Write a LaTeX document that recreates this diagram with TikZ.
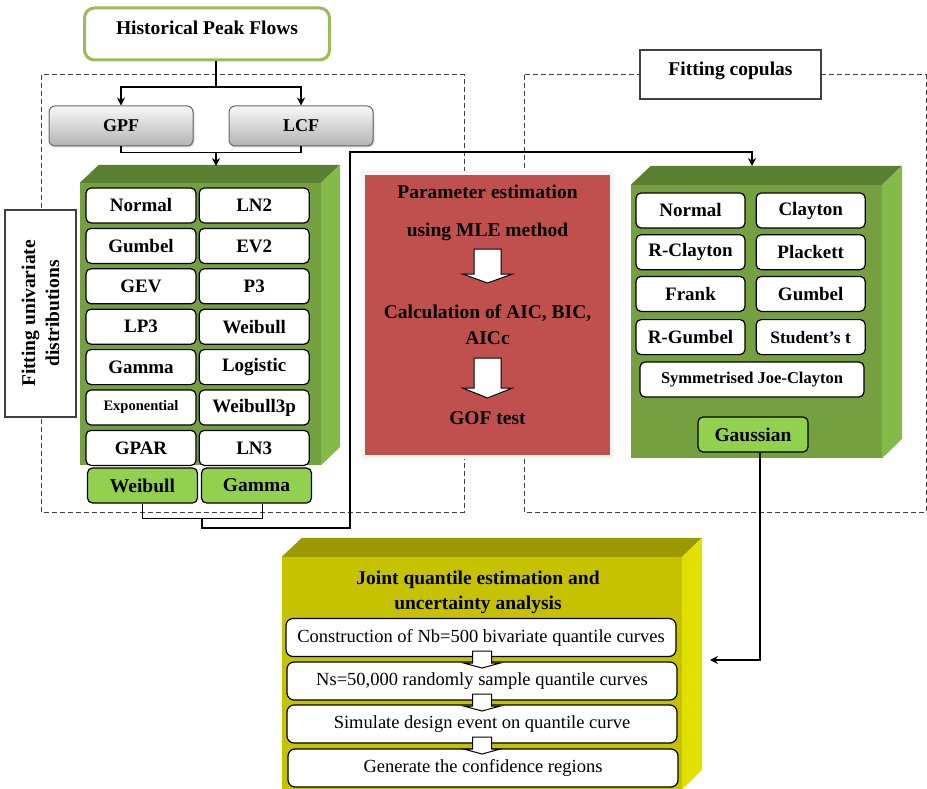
\documentclass[tikz,border=0pt]{standalone}
\usepackage{fontspec}
\setmainfont{Liberation Serif}
\usetikzlibrary{arrows.meta, positioning, shadows}

\definecolor{hpfgreen}{RGB}{155,187,89}
\definecolor{gfront}{RGB}{117,160,64}
\definecolor{gtop}{RGB}{90,128,50}
\definecolor{gside}{RGB}{132,186,72}
\definecolor{glight}{RGB}{146,208,80}
\definecolor{mlered}{RGB}{192,80,77}
\definecolor{yfront}{RGB}{198,194,0}
\definecolor{ytop}{RGB}{155,153,0}
\definecolor{yside}{RGB}{226,224,0}

\begin{document}
\begin{tikzpicture}[x=1pt, y=-1pt,
    arrow/.style={-{Stealth[length=8pt, width=8pt]}, line width=1.1pt},
    conn/.style={line width=1.1pt},
    dashbox/.style={draw=black!75, line width=1pt, dash pattern=on 5pt off 3pt},
    titlebox/.style={rectangle, draw=black!75, line width=1.1pt, fill=white, font=\fontsize{19.5}{24}\selectfont\bfseries},
    sourcebox/.style={rectangle, rounded corners=6pt, draw=black!60, line width=1pt, top color=gray!5, bottom color=gray!60, minimum width=144pt, minimum height=40pt, drop shadow={shadow xshift=1.5pt, shadow yshift=-1.5pt, fill=black!30}, font=\fontsize{18}{22}\selectfont\bfseries},
    cell/.style={rectangle, rounded corners=5pt, draw, line width=1.2pt, fill=white, minimum width=110pt, minimum height=35pt, inner sep=1pt, font=\fontsize{19}{22}\selectfont\bfseries},
    pick/.style={cell, fill=glight},
    front/.style={rectangle, inner sep=0pt},
    mletext/.style={font=\fontsize{19.5}{24}\selectfont\bfseries},
    stepbox/.style={rectangle, rounded corners=7pt, draw, line width=1.2pt, fill=white, minimum width=390pt, minimum height=38pt, font=\fontsize{18.5}{22}\selectfont},
    blockarr/.style={draw, line width=1pt, fill=white}
]
\useasboundingbox (0,0) rectangle (927,789);

% dashed groups
\draw[dashbox] (41,75) rectangle (464,512);
\draw[dashbox] (524,75) rectangle (926,512);

% input
\node[rectangle, rounded corners=10pt, draw=hpfgreen, line width=3pt, fill=white, minimum width=245pt, minimum height=52pt, text depth=12pt, font=\fontsize{19.5}{24}\selectfont\bfseries] (hpf) at (207,34) {Historical Peak Flows};
\node[sourcebox] (gpf) at (121,126) {GPF};
\node[sourcebox] (lcf) at (301,126) {LCF};

% univariate distributions
\node[titlebox, rotate=90, minimum width=207pt, minimum height=71pt, align=center] (unilabel) at (40.5,313.5) {Fitting univariate\\distributions};
\node[front, fill=gfront, minimum width=241pt, minimum height=282pt] (dist) at (200.5,324) {};
\fill[gtop] (dist.north west) -- ++(19,-18) -- ++(241,0) -- (dist.north east) -- cycle;
\fill[gside] (dist.north east) -- ++(19,-18) -- ++(0,282) -- (dist.south east) -- cycle;

\node[cell] (normal) at (141,205.5) {Normal};
\node[cell, right=2pt of normal] (ln2) {LN2};
\node[cell, below=4.2pt of normal] (gumbel) {Gumbel};
\node[cell, right=2pt of gumbel] (ev2) {EV2};
\node[cell, below=4.2pt of gumbel] (gev) {GEV};
\node[cell, right=2pt of gev] (p3) {P3};
\node[cell, below=4.2pt of gev] (lp3) {LP3};
\node[cell, right=2pt of lp3] (weibull) {Weibull};
\node[cell, below=4.2pt of lp3] (gamma) {Gamma};
\node[cell, right=2pt of gamma] (logistic) {Logistic};
\node[cell, below=4.2pt of gamma, font=\fontsize{14.5}{18}\selectfont\bfseries] (expo) {Exponential};
\node[cell, right=2pt of expo] (wei3p) {Weibull3p};
\node[cell, below=4.2pt of expo] (gpar) {GPAR};
\node[cell, right=2pt of gpar] (ln3) {LN3};

\node[pick, font=\fontsize{19.5}{22}\selectfont\bfseries] (bestw) at (142.5,485.5) {Weibull};
\node[pick, font=\fontsize{19.5}{22}\selectfont\bfseries] (bestg) at (256.5,485.5) {Gamma};

% parameter estimation
\node[front, fill=mlered, draw=gray!8, line width=4pt, minimum width=249pt, minimum height=284pt, drop shadow={shadow xshift=2pt, shadow yshift=-2pt, fill=red!25!gray!70}] (mle) at (487.5,315) {};
\node[mletext] (mle1) at (487.5,192) {Parameter estimation};
\node[mletext] (mle2) at (487.5,232) {using MLE method};
\node[mletext] (mle3) at (487.5,313) {Calculation of AIC, BIC,};
\node[mletext] (mle4) at (487.5,338) {AICc};
\node[mletext] (mle5) at (487.5,418) {GOF test};
\coordinate (arrA) at (487.5,249);
\coordinate (arrB) at (487.5,358);
\draw[blockarr] (arrA) ++(-13.5,0) -- ++(0,25) -- ++(-11.5,0) -- ++(25,9) -- ++(25,-9) -- ++(-11.5,0) -- ++(0,-25) -- cycle;
\draw[blockarr] (arrB) ++(-13.5,0) -- ++(0,30) -- ++(-11.5,0) -- ++(25,10) -- ++(25,-10) -- ++(-11.5,0) -- ++(0,-30) -- cycle;

% copulas
\node[titlebox, minimum width=181pt, minimum height=49pt, text depth=12pt] (coplabel) at (730.5,74.5) {Fitting copulas};
\node[front, fill=gfront, minimum width=251pt, minimum height=273pt] (cop) at (756.5,321.5) {};
\fill[gtop] (cop.north west) -- ++(20,-19) -- ++(251,0) -- (cop.north east) -- cycle;
\fill[gside] (cop.north east) -- ++(20,-19) -- ++(0,273) -- (cop.south east) -- cycle;

\node[cell, minimum width=109pt] (cnormal) at (690.5,210.5) {Normal};
\node[cell, minimum width=109pt, right=10pt of cnormal] (clayton) {Clayton};
\node[cell, minimum width=109pt, below=5.5pt of cnormal] (rclayton) {R-Clayton};
\node[cell, minimum width=109pt, right=10pt of rclayton] (plackett) {Plackett};
\node[cell, minimum width=109pt, below=5.5pt of rclayton] (frank) {Frank};
\node[cell, minimum width=109pt, right=10pt of frank] (cgumbel) {Gumbel};
\node[cell, minimum width=109pt, below=7pt of frank] (rgumbel) {R-Gumbel};
\node[cell, minimum width=109pt, right=10pt of rgumbel, font=\fontsize{17.5}{22}\selectfont\bfseries] (student) {Student's t};
\node[cell, minimum width=224pt, font=\fontsize{16.5}{20}\selectfont\bfseries] (sjc) at (752,379.5) {Symmetrised Joe-Clayton\hspace{16pt}};
\node[pick, font=\fontsize{19.5}{22}\selectfont\bfseries] (gauss) at (753,434.5) {Gaussian};

% joint quantile estimation
\node[front, fill=yfront, minimum width=400pt, minimum height=232pt] (joint) at (482,673) {};
\fill[ytop] (joint.north west) -- ++(20,-19) -- ++(400,0) -- (joint.north east) -- cycle;
\fill[yside] (joint.north east) -- ++(20,-19) -- ++(0,232) -- (joint.south east) -- cycle;
\node[mletext, align=center, font=\fontsize{19.5}{25}\selectfont\bfseries] (jtitle) at (478,592) {Joint quantile estimation and\\uncertainty analysis};
\node[stepbox] (nb) at (481,637.5) {Construction of Nb=500 bivariate quantile curves};
\node[stepbox] (ns) at (482,681) {Ns=50,000 randomly sample quantile curves};
\node[stepbox] (sim) at (482,724) {Simulate design event on quantile curve};
\node[stepbox] (conf) at (483,768) {Generate the confidence regions};
\coordinate (arr1) at (482,651);
\coordinate (arr2) at (482,694);
\coordinate (arr3) at (482,737);
\draw[blockarr] (arr1) ++(-9.5,0) -- ++(0,12) -- ++(-9,0) -- ++(18.5,5) -- ++(18.5,-5) -- ++(-9,0) -- ++(0,-12) -- cycle;
\draw[blockarr] (arr2) ++(-9.5,0) -- ++(0,12) -- ++(-9,0) -- ++(18.5,5) -- ++(18.5,-5) -- ++(-9,0) -- ++(0,-12) -- cycle;
\draw[blockarr] (arr3) ++(-9.5,0) -- ++(0,12) -- ++(-9,0) -- ++(18.5,5) -- ++(18.5,-5) -- ++(-9,0) -- ++(0,-12) -- cycle;

% connectors
\coordinate (hsplit) at (216,87);
\coordinate (glmerge) at (216,152);
\coordinate (distin) at (216,166);
\coordinate (wgmerge) at (202,518);
\coordinate (route) at (350,152);
\coordinate (copin) at (752,166);
\coordinate (jointin) at (710,660);
\draw[conn] (hpf.south -| hsplit) -- (hsplit);
\draw[arrow] (hsplit) -| (gpf.north);
\draw[arrow] (hsplit) -| (lcf.north);
\draw[conn] (gpf.south) -- ++(0,6) -| (lcf.south);
\draw[arrow] (glmerge) -- (distin);
\draw[conn] (bestw.south) -- ++(0,15) -| ([xshift=6pt]bestg.south);
\draw[arrow] (wgmerge) |- (350,528) -- (route) -| (copin);
\draw[arrow] ([xshift=7pt]gauss.south) |- (jointin);
\end{tikzpicture}
\end{document}
